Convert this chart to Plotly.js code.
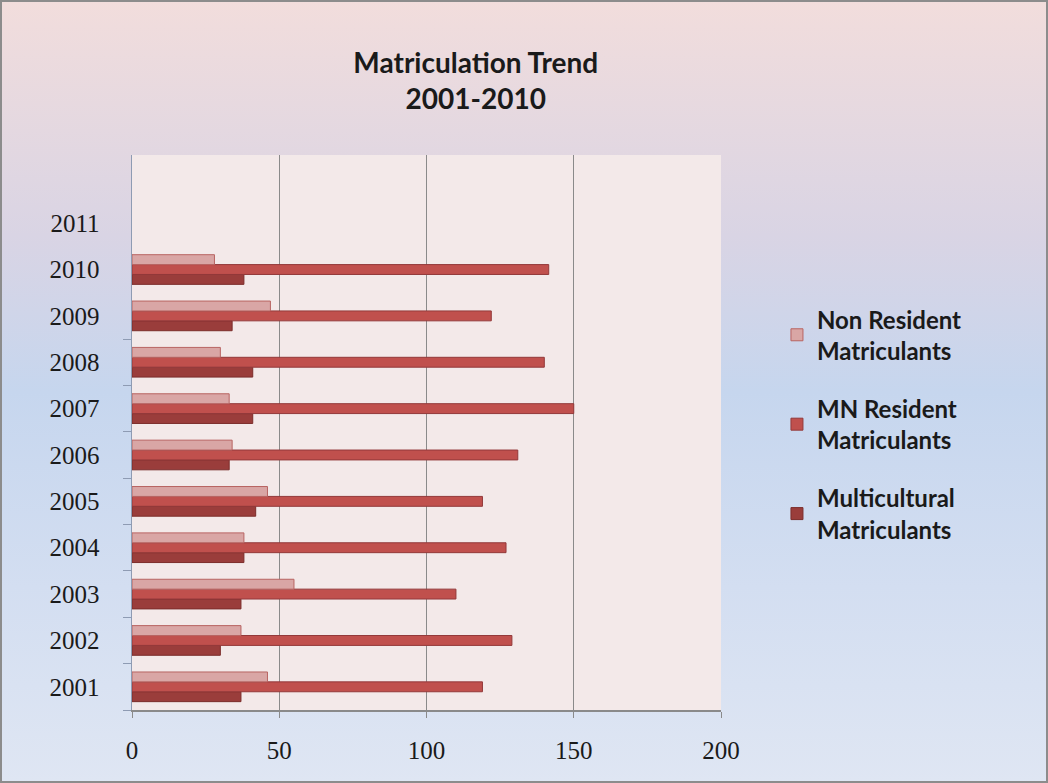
<!DOCTYPE html>
<html>
<head>
<meta charset="utf-8">
<script src="https://cdn.plot.ly/plotly-3.0.1.min.js"></script>
<style>
  html, body { margin: 0; padding: 0; }
  #wrap { position: relative; width: 1048px; height: 783px;
    background: linear-gradient(to bottom, #F2DDDC 0%, #D9D4E4 30%, #C6D6EE 50%, #D3DEF1 75%, #DFE6F3 100%); }
  #chart { position: absolute; left: 0; top: 0; width: 1048px; height: 783px; }
  #frame { position: absolute; left: 0; top: 0; width: 1048px; height: 783px;
    box-sizing: border-box; border: 2px solid #8C8C8C; pointer-events: none; }
</style>
</head>
<body>
<div id="wrap"><div id="chart"></div><div id="frame"></div></div>
<script>
const years = [2001, 2002, 2003, 2004, 2005, 2006, 2007, 2008, 2009, 2010];
const tickYears = [2001, 2002, 2003, 2004, 2005, 2006, 2007, 2008, 2009, 2010, 2011];
const nonResident = [46, 37, 55, 38, 46, 34, 33, 30, 47, 28];
const mnResident = [119, 129, 110, 127, 119, 131, 150, 140, 122, 141.5];
const multicultural = [37, 30, 37, 38, 42, 33, 41, 41, 34, 38];
const xTicks = [0, 50, 100, 150, 200];

const traces = [
  { type: 'bar', orientation: 'h', name: 'Multicultural<br>Matriculants', y: years, x: multicultural,
    legendgroup: 'c', legendrank: 3, marker: { color: '#9A3D3B', line: { color: '#7B2D2B', width: 1 } } },
  { type: 'bar', orientation: 'h', name: 'MN Resident<br>Matriculants', y: years, x: mnResident,
    legendgroup: 'b', legendrank: 2, marker: { color: '#C0504D', line: { color: '#93393A', width: 1 } } },
  { type: 'bar', orientation: 'h', name: 'Non Resident<br>Matriculants', y: years, x: nonResident,
    legendgroup: 'a', legendrank: 1, marker: { color: '#D9A6A5', line: { color: '#B86462', width: 1 } } }
];

const layout = {
  width: 1048, height: 783,
  paper_bgcolor: 'rgba(0,0,0,0)',
  plot_bgcolor: '#F3E9E9',
  margin: { l: 132, r: 327, t: 155, b: 73 },
  barmode: 'group', bargap: 0.36, bargroupgap: 0,
  showlegend: true,
  title: { text: '<b>Matriculation Trend</b><br><b>2001-2010</b>', xref: 'container', x: 0.454, xanchor: 'center',
    yref: 'container', y: 0.907, yanchor: 'top',
    font: { family: 'Lato, sans-serif', size: 28, color: '#1a1a1a' } },
  legend: { x: 1.095, xanchor: 'left', y: 0.744, yanchor: 'top', traceorder: 'grouped', tracegroupgap: 24,
    font: { family: 'Lato, sans-serif', size: 24, color: '#1a1a1a', weight: 'bold' },
    bgcolor: 'rgba(0,0,0,0)', itemwidth: 30 },
  xaxis: { range: [0, 200], tickvals: xTicks, ticktext: xTicks.map(String), showgrid: true, gridcolor: '#8A8A8A', gridwidth: 1,
    zeroline: false, showline: true, linecolor: '#8A8A8A', linewidth: 1.5, ticks: 'outside', ticklen: 6, tickcolor: '#8A8A8A',
    ticklabelstandoff: 11,
    tickfont: { family: '"Liberation Serif", serif', size: 25, color: '#1a1a1a' }, fixedrange: true },
  yaxis: { range: [2000.5, 2012.47], tickvals: tickYears, ticktext: tickYears.map(String), ticks: '',
    showgrid: false, zeroline: false, showline: true, linecolor: '#8E9BB3', linewidth: 1.5,
    ticklabelstandoff: 26,
    minor: { tickmode: 'array', tickvals: [2000.5, 2001.5, 2002.5, 2003.5, 2004.5, 2005.5, 2006.5, 2007.5, 2008.5],
      ticks: 'outside', ticklen: 8, tickcolor: '#8E9BB3', showgrid: false },
    tickfont: { family: '"Liberation Serif", serif', size: 25, color: '#1a1a1a' }, fixedrange: true }
};

Plotly.newPlot('chart', traces, layout, { displayModeBar: false, staticPlot: true });
</script>
</body>
</html>
